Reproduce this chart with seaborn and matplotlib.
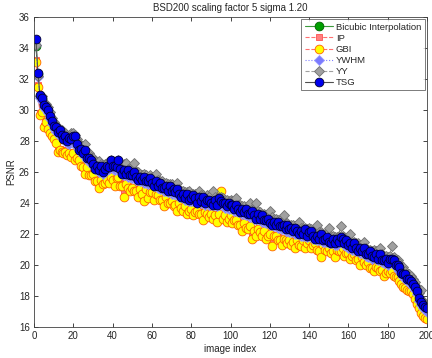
import numpy as np
import pandas as pd
import matplotlib
matplotlib.use("Agg")
import matplotlib.pyplot as plt
import seaborn as sns

title = "BSD200 scaling factor 5 sigma 1.20"
series_names = ["Bicubic Interpolation", "IP", "GBI", "YWHM", "YY", "TSG"]

bicubic = [
    34.1, 32.3, 30.9, 30.7, 30.2, 30.1, 29.9, 29.5, 29.2, 28.9,
    28.7, 28.6, 28.4, 28.3, 28.2, 28.1, 28.0, 27.9, 28.1, 28.2,
    28.0, 27.7, 27.5, 27.3, 27.2, 27.1, 26.9, 26.8, 26.6, 26.5,
    26.3, 26.2, 26.1, 26.1, 26.0, 26.1, 26.2, 26.3, 26.5, 26.3,
    26.2, 26.3, 26.5, 26.1, 26.0, 25.9, 25.9, 25.8, 25.8, 25.7,
    25.7, 25.6, 25.6, 25.5, 25.5, 25.4, 25.4, 25.3, 25.4, 25.3,
    25.2, 25.2, 25.1, 25.0, 25.0, 24.9, 24.9, 24.8, 24.8, 24.7,
    24.7, 24.7, 24.6, 24.5, 24.5, 24.4, 24.3, 24.3, 24.2, 24.2,
    24.2, 24.2, 24.1, 24.2, 24.1, 24.1, 24.0, 24.1, 24.0, 24.0,
    24.0, 24.0, 23.9, 24.0, 24.1, 23.9, 23.8, 23.8, 23.7, 23.8,
    23.7, 23.6, 23.6, 23.5, 23.5, 23.4, 23.4, 23.3, 23.3, 23.2,
    23.2, 23.1, 23.1, 23.1, 23.0, 22.9, 22.9, 22.8, 22.8, 22.7,
    22.7, 22.6, 22.6, 22.5, 22.5, 22.4, 22.4, 22.3, 22.3, 22.2,
    22.2, 22.2, 22.1, 22.1, 22.1, 22.0, 22.0, 22.0, 21.9, 22.0,
    21.9, 21.8, 21.8, 21.7, 21.7, 21.7, 21.6, 21.6, 21.6, 21.5,
    21.5, 21.5, 21.4, 21.4, 21.5, 21.7, 21.5, 21.4, 21.3, 21.2,
    21.2, 21.1, 21.1, 21.0, 21.0, 20.9, 20.9, 20.8, 20.7, 20.6,
    20.6, 20.5, 20.6, 20.5, 20.4, 20.4, 20.3, 20.2, 20.2, 20.1,
    20.2, 20.3, 20.1, 20.0, 19.9, 19.7, 19.5, 19.3, 19.2, 19.1,
    19.0, 18.9, 18.7, 18.5, 18.2, 17.8, 17.5, 17.3, 17.2, 17.1,
]

ip = [
    33.2, 31.6, 29.8, 30.0, 29.0, 29.3, 28.9, 28.6, 28.4, 28.2,
    28.0, 27.4, 27.5, 27.4, 27.3, 27.4, 27.2, 27.3, 27.1, 27.3,
    27.1, 26.9, 26.7, 26.6, 26.4, 26.3, 26.2, 25.9, 26.0, 25.8,
    25.6, 25.5, 25.4, 25.4, 25.3, 25.5, 25.4, 25.6, 25.7, 25.4,
    25.4, 25.6, 25.6, 25.3, 25.2, 24.8, 25.1, 25.1, 25.0, 24.9,
    25.0, 24.9, 24.8, 24.8, 24.7, 24.3, 24.8, 24.6, 24.7, 24.6,
    24.5, 24.6, 24.4, 24.4, 24.3, 24.2, 24.3, 24.1, 24.2, 24.0,
    24.0, 24.0, 23.9, 23.9, 23.8, 23.7, 23.7, 23.6, 23.5, 23.5,
    23.5, 23.4, 23.4, 23.5, 23.4, 23.3, 23.3, 23.4, 23.3, 23.2,
    23.2, 23.3, 23.2, 23.2, 24.7, 23.2, 23.1, 23.1, 23.0, 23.1,
    23.0, 22.9, 22.8, 22.8, 22.7, 22.6, 22.6, 22.5, 22.5, 22.4,
    21.9, 22.3, 22.3, 22.2, 22.2, 22.1, 22.1, 22.0, 21.9, 21.9,
    21.5, 21.9, 21.8, 21.8, 21.7, 21.7, 21.6, 21.7, 21.6, 21.5,
    21.5, 21.6, 21.5, 21.5, 21.4, 21.4, 21.5, 21.4, 21.4, 21.5,
    21.4, 21.3, 21.3, 21.2, 21.0, 20.9, 21.2, 21.1, 21.1, 21.0,
    21.0, 21.0, 20.9, 20.9, 21.0, 21.1, 21.0, 20.9, 20.8, 20.7,
    20.7, 20.6, 20.6, 20.5, 20.5, 20.4, 20.4, 20.3, 20.2, 20.1,
    20.0, 19.9, 20.0, 19.8, 19.9, 19.8, 19.6, 19.6, 19.5, 19.5,
    19.6, 19.7, 19.4, 19.3, 19.3, 19.1, 18.9, 18.7, 18.6, 18.5,
    18.4, 18.4, 18.2, 17.9, 17.6, 17.3, 17.0, 16.8, 16.7, 16.6,
]

gbi = [
    33.1, 31.5, 29.7, 29.9, 28.9, 29.2, 28.8, 28.5, 28.3, 28.1,
    27.9, 27.3, 27.4, 27.3, 27.2, 27.3, 27.1, 27.2, 27.0, 27.2,
    26.8, 26.9, 26.8, 26.4, 26.3, 25.9, 26.3, 25.8, 25.8, 25.9,
    25.4, 25.4, 25.0, 25.5, 25.2, 25.3, 25.5, 25.3, 25.7, 25.5,
    25.1, 25.6, 25.7, 25.1, 25.1, 24.4, 25.2, 25.0, 24.8, 25.0,
    24.8, 24.8, 24.4, 24.9, 24.6, 24.1, 24.9, 24.3, 24.7, 24.7,
    24.2, 24.6, 24.5, 24.2, 24.2, 23.8, 24.4, 24.0, 24.0, 24.1,
    23.8, 23.9, 23.5, 24.0, 23.7, 23.5, 23.8, 23.3, 23.5, 23.6,
    23.2, 23.4, 23.5, 23.3, 23.3, 22.9, 23.4, 23.3, 23.1, 23.3,
    23.0, 23.2, 22.8, 23.3, 24.8, 23.0, 23.2, 22.8, 23.0, 23.2,
    22.7, 22.9, 22.9, 22.6, 22.6, 22.2, 22.7, 22.4, 22.3, 22.5,
    21.7, 22.2, 21.9, 22.3, 22.1, 21.9, 22.2, 21.7, 21.9, 22.0,
    21.2, 21.9, 21.9, 21.6, 21.6, 21.3, 21.7, 21.6, 21.4, 21.6,
    21.3, 21.5, 21.1, 21.6, 21.3, 21.2, 21.6, 21.1, 21.4, 21.6,
    21.1, 21.3, 21.4, 21.0, 20.9, 20.5, 21.3, 21.0, 20.9, 21.1,
    20.8, 20.9, 20.5, 21.0, 20.9, 20.9, 21.1, 20.6, 20.8, 20.8,
    20.4, 20.6, 20.7, 20.3, 20.4, 20.0, 20.5, 20.2, 20.0, 20.2,
    19.8, 19.8, 19.6, 19.9, 19.8, 19.6, 19.7, 19.3, 19.5, 19.6,
    19.5, 19.6, 19.3, 19.2, 19.2, 19.0, 18.8, 18.6, 18.5, 18.4,
    18.3, 18.3, 18.1, 17.8, 17.5, 17.2, 16.9, 16.7, 16.6, 16.5,
]

ywhm = [
    34.2, 32.1, 30.8, 30.6, 30.1, 30.0, 29.8, 29.4, 29.1, 28.8,
    28.6, 28.5, 28.3, 28.2, 28.1, 28.0, 27.9, 27.8, 28.0, 28.1,
    27.9, 27.6, 27.4, 27.2, 27.1, 27.0, 26.8, 26.7, 26.5, 26.4,
    26.2, 26.1, 26.0, 26.0, 25.9, 26.0, 26.1, 26.2, 26.4, 26.2,
    26.1, 26.2, 26.4, 26.0, 25.9, 25.8, 25.8, 25.7, 25.7, 25.6,
    25.6, 25.5, 25.5, 25.4, 25.4, 25.3, 25.3, 25.2, 25.3, 25.2,
    25.1, 25.1, 25.0, 24.9, 24.9, 24.8, 24.8, 24.7, 24.7, 24.6,
    24.6, 24.6, 24.5, 24.4, 24.4, 24.3, 24.2, 24.2, 24.1, 24.1,
    24.1, 24.1, 24.0, 24.1, 24.0, 24.0, 23.9, 24.0, 23.9, 23.9,
    23.9, 23.9, 23.8, 23.9, 24.0, 23.8, 23.7, 23.7, 23.6, 23.7,
    23.6, 23.5, 23.5, 23.4, 23.4, 23.3, 23.3, 23.2, 23.2, 23.1,
    23.1, 23.0, 23.0, 23.0, 22.9, 22.8, 22.8, 22.7, 22.7, 22.6,
    22.6, 22.5, 22.5, 22.4, 22.4, 22.3, 22.3, 22.2, 22.2, 22.1,
    22.1, 22.1, 22.0, 22.0, 22.0, 21.9, 21.9, 21.9, 21.8, 21.9,
    21.8, 21.7, 21.7, 21.6, 21.6, 21.6, 21.5, 21.5, 21.5, 21.4,
    21.4, 21.4, 21.3, 21.3, 21.4, 21.6, 21.4, 21.3, 21.2, 21.1,
    21.1, 21.0, 21.0, 20.9, 20.9, 20.8, 20.8, 20.7, 20.6, 20.5,
    20.5, 20.4, 20.5, 20.4, 20.3, 20.3, 20.2, 20.1, 20.1, 20.0,
    20.1, 20.2, 20.0, 19.9, 19.8, 19.6, 19.4, 19.2, 19.1, 19.0,
    18.9, 18.8, 18.6, 18.4, 18.1, 17.7, 17.4, 17.2, 17.1, 17.0,
]

yy = [
    34.2, 32.2, 30.9, 30.9, 30.4, 30.4, 30.2, 29.9, 29.5, 29.2,
    29.0, 28.9, 28.7, 28.7, 28.5, 28.5, 28.4, 28.3, 28.5, 28.5,
    28.4, 28.1, 27.9, 27.7, 27.7, 27.8, 27.3, 27.2, 27.0, 26.9,
    26.7, 26.6, 26.7, 26.5, 26.4, 26.5, 26.6, 26.7, 26.8, 26.7,
    26.6, 26.7, 26.8, 26.5, 26.4, 26.5, 26.6, 26.2, 26.2, 26.3,
    26.6, 26.0, 26.0, 25.9, 25.8, 25.9, 25.8, 25.7, 25.8, 25.7,
    25.6, 25.9, 25.5, 25.4, 25.4, 25.3, 25.3, 25.2, 25.2, 25.2,
    25.1, 25.0, 25.3, 24.9, 24.8, 24.8, 24.7, 24.7, 24.8, 24.6,
    24.6, 24.6, 24.5, 24.8, 24.5, 24.5, 24.4, 24.5, 24.4, 24.5,
    24.8, 24.4, 24.3, 24.4, 24.4, 24.3, 24.2, 24.2, 24.1, 24.2,
    24.1, 24.0, 24.3, 23.9, 23.9, 23.8, 23.8, 23.7, 23.7, 24.0,
    23.6, 23.6, 24.0, 23.5, 23.4, 23.3, 23.3, 23.2, 23.2, 23.5,
    23.1, 23.0, 23.0, 22.9, 22.9, 22.8, 23.2, 22.7, 22.7, 22.6,
    22.6, 22.6, 22.5, 22.5, 22.8, 22.4, 22.4, 22.4, 22.3, 22.4,
    22.3, 22.2, 22.2, 22.6, 22.1, 22.1, 22.0, 22.0, 22.0, 22.4,
    21.9, 21.9, 21.8, 21.8, 21.9, 22.5, 21.9, 21.8, 21.7, 21.6,
    22.0, 21.5, 21.5, 21.4, 21.4, 21.3, 21.3, 21.5, 21.1, 21.0,
    21.0, 20.9, 21.0, 20.9, 20.8, 21.1, 20.7, 20.6, 20.6, 20.5,
    20.6, 21.2, 20.5, 20.4, 20.3, 20.1, 19.9, 19.9, 19.6, 19.5,
    19.4, 19.3, 19.1, 18.9, 18.6, 18.2, 18.4, 17.7, 17.5, 17.4,
]

tsg = [
    34.6, 32.4, 31.0, 30.8, 30.3, 30.2, 30.0, 29.6, 29.3, 29.0,
    28.9, 28.6, 28.7, 28.4, 28.1, 28.3, 28.0, 28.2, 28.1, 28.3,
    28.3, 27.8, 27.4, 27.5, 27.2, 27.4, 26.9, 26.9, 26.8, 26.5,
    26.2, 26.4, 26.1, 26.4, 26.0, 26.2, 26.4, 26.3, 26.8, 26.4,
    26.4, 26.3, 26.8, 26.2, 25.9, 26.1, 25.9, 26.1, 25.8, 25.8,
    26.0, 25.7, 25.5, 25.7, 25.5, 25.7, 25.4, 25.4, 25.6, 25.3,
    25.1, 25.4, 25.1, 25.3, 25.0, 25.0, 25.1, 24.8, 25.1, 24.8,
    24.9, 24.7, 24.9, 24.6, 24.4, 24.6, 24.3, 24.6, 24.2, 24.3,
    24.5, 24.3, 24.0, 24.4, 24.1, 24.4, 24.0, 24.2, 24.2, 24.0,
    23.9, 24.2, 23.9, 24.3, 24.1, 24.0, 24.0, 23.8, 24.0, 23.9,
    23.9, 23.6, 23.9, 23.6, 23.4, 23.6, 23.4, 23.6, 23.3, 23.3,
    23.5, 23.2, 23.0, 23.3, 23.0, 23.2, 22.9, 22.9, 23.0, 22.7,
    22.6, 22.8, 22.6, 22.8, 22.5, 22.5, 22.6, 22.3, 22.6, 22.3,
    22.4, 22.2, 22.4, 22.2, 22.0, 22.2, 22.0, 22.3, 21.9, 22.1,
    22.2, 21.9, 21.7, 21.9, 21.7, 22.0, 21.6, 21.7, 21.8, 21.5,
    21.4, 21.7, 21.4, 21.7, 21.5, 21.8, 21.7, 21.4, 21.6, 21.3,
    21.4, 21.1, 21.4, 21.1, 20.9, 21.1, 20.9, 21.1, 20.7, 20.7,
    20.9, 20.6, 20.5, 20.7, 20.4, 20.7, 20.3, 20.3, 20.4, 20.1,
    20.4, 20.4, 20.3, 20.0, 20.0, 19.9, 19.5, 19.4, 19.4, 19.1,
    19.1, 19.0, 18.8, 18.6, 18.3, 17.9, 17.6, 17.4, 17.3, 17.2,
]

image_index = np.arange(1, len(tsg) + 1)
x_ticks = list(range(0, 201, 20))
y_ticks = list(range(16, 37, 2))

sns.set_style("white")
plt.rcParams["font.family"] = ["Liberation Sans", "DejaVu Sans"]

fig = plt.figure(figsize=(4.32, 3.58), dpi=100)
ax = fig.add_axes([34 / 432, 1 - 327 / 358, (427 - 34) / 432, (327 - 17) / 358])

styles = [
    dict(color="#3c9a3c", linestyle="-", marker="o", markerfacecolor="#00a000",
         markeredgecolor="#006000", markersize=6.3),
    dict(color="#ff7070", linestyle="--", marker="s", markerfacecolor="#ff8080",
         markeredgecolor="#ff5050", markersize=4),
    dict(color="#ff7070", linestyle="--", marker="o", markerfacecolor="#ffff00",
         markeredgecolor="#ff6000", markersize=6.3),
    dict(color="#8080ff", linestyle=":", marker="D", markerfacecolor="#7a7aff",
         markeredgecolor="#9a9aff", markersize=4.6),
    dict(color="#a0a0a0", linestyle="--", marker="D", markerfacecolor="#a0a0a0",
         markeredgecolor="#707070", markersize=5),
    dict(color="#505050", linestyle="-", marker="o", markerfacecolor="#0000ee",
         markeredgecolor="#000030", markersize=6.3),
]

all_values = [bicubic, ip, gbi, ywhm, yy, tsg]
for name, vals, st in zip(series_names, all_values, styles):
    df = pd.DataFrame({"image index": image_index, "PSNR": vals})
    sns.lineplot(data=df, x="image index", y="PSNR", ax=ax, label=name,
                 linewidth=0.8, markeredgewidth=0.6, **st)

ax.set_xlim(0, 200)
ax.set_ylim(16, 36)
ax.set_xticks(x_ticks)
ax.set_yticks(y_ticks)
ax.tick_params(direction="in", length=3, width=0.6, labelsize=7,
               top=True, right=True, bottom=True, left=True, pad=3)
for sp in ax.spines.values():
    sp.set_visible(True)
    sp.set_color("#404040")
    sp.set_linewidth(0.6)
ax.set_xlabel("image index", fontsize=7, labelpad=2)
ax.set_ylabel("PSNR", fontsize=7, labelpad=2)
ax.set_title(title, fontsize=7, pad=4)

leg = ax.legend(loc="upper right", fontsize=6.8, frameon=True, fancybox=False,
                borderaxespad=0.25, handlelength=3.0, labelspacing=0.22,
                borderpad=0.35, handletextpad=0.3)
leg.get_frame().set_edgecolor("#404040")
leg.get_frame().set_linewidth(0.6)

fig.savefig("out.png", dpi=100)
